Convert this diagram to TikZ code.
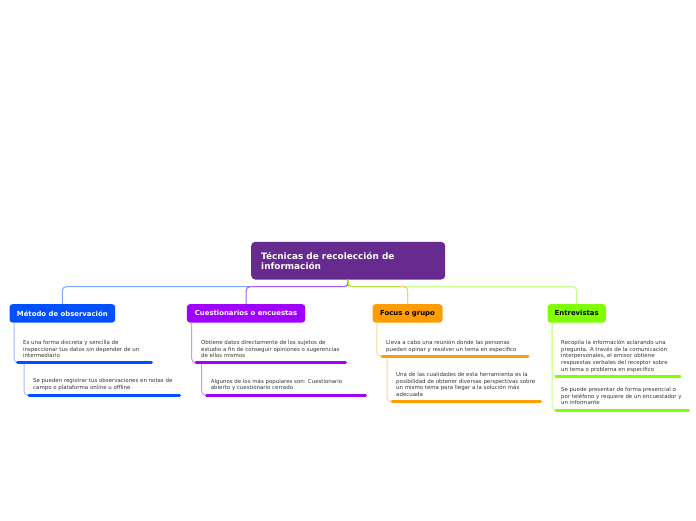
\documentclass[tikz,border=0pt]{standalone}
\usepackage{fontspec}
\setmainfont{DejaVu Sans}
\definecolor{cmain}{HTML}{672A8E}
\definecolor{cblue}{HTML}{0050FF}
\definecolor{cpurple}{HTML}{A000FF}
\definecolor{corange}{HTML}{FF9C00}
\definecolor{cgreen}{HTML}{80FF00}
\definecolor{lblue}{HTML}{80A6FF}
\definecolor{lpurple}{HTML}{A55CF2}
\definecolor{lyg}{HTML}{B8E63C}
\definecolor{lorange}{HTML}{FFCB7A}
\definecolor{lgreen}{HTML}{C4FF88}
\definecolor{sblue}{HTML}{A3BCFF}
\definecolor{spurple}{HTML}{D391FF}
\definecolor{sorange}{HTML}{FFD596}
\definecolor{sgreen}{HTML}{C8FF90}
\newcommand{\fsub}{\fontsize{5.45}{6.67}\selectfont}
\newcommand{\fbranch}{\fontsize{6.9}{7.5}\selectfont\bfseries}
\newcommand{\fmain}{\fontsize{8.9}{10.6}\selectfont\bfseries}
\tikzset{
  branchbox/.style={rounded corners=3pt, draw=none, inner sep=0pt, minimum height=18.3pt, anchor=north west, font=\fbranch},
  subtext/.style={anchor=north west, inner sep=0pt, align=left, font=\fsub, text=black!80},
  uline/.style={line width=3pt, line cap=round},
  conn/.style={line width=1pt, rounded corners=4pt},
  sconn/.style={line width=1pt, rounded corners=4pt},
}
\begin{document}
\begin{tikzpicture}[x=1pt,y=-1pt]
\useasboundingbox (0,0) rectangle (696,520);
% central node
\node[fill=cmain, rounded corners=4pt, minimum width=194pt, minimum height=37.6pt, inner sep=0pt, anchor=north west] (c) at (251,241.7) {};
\node[anchor=north west, inner sep=0pt, align=left, text=white, font=\fmain] (ct) at (261,252) {Técnicas de recolección de\\información};
% branch nodes
\node[branchbox, fill=cblue, minimum width=105.7pt, text=white] (b1) at (9.3,304) {Método de observación};
\node[branchbox, fill=cpurple, minimum width=118.3pt, text=white] (b2) at (186.7,304) {Cuestionarios o encuestas};
\node[branchbox, fill=corange, minimum width=70pt, text=black] (b3) at (372.3,304) {Focus o grupo};
\node[branchbox, fill=cgreen, minimum width=58.4pt, text=black] (b4) at (547.3,304) {Entrevistas};
% main connectors
\draw[conn, lgreen] (c.south) -- ++(0,7) -| (b4.north);
\draw[conn, lyg] (c.south) -- ++(0,7) -| (b3.north);
\draw[conn, lorange] ([xshift=-8pt,yshift=17.7pt]b3.north) -| (b3.north);
\draw[conn, lblue] (c.south) -- ++(0,7) -| (b1.north);
\draw[conn, lpurple] (c.south) -- ++(0,7) -| (b2.north);
\draw[line width=1pt, lyg] (c.south) -- ++(0,7.2);
% sub texts
\node[subtext] (t11) at (23,340) {Es una forma discreta y sencilla de\\inspeccionar tus datos sin depender de un\\intermediario};
\node[subtext] (t12) at (33,378.6) {Se pueden registrar tus observaciones en notas de\\campo o plataforma online u offline};
\node[subtext] (t21) at (201,340) {Obtiene datos directamente de los sujetos de\\estudio a fin de conseguir opiniones o sugerencias\\de ellos mismos};
\node[subtext] (t22) at (210.7,378.6) {Algunos de los más populares son: Cuestionario\\abierto y cuestionario cerrado};
\node[subtext] (t31) at (386,340) {Lleva a cabo una reunión donde las personas\\pueden opinar y resolver un tema en específico};
\node[subtext] (t32) at (396,372) {Una de las cualidades de esta herramienta es la\\posibilidad de obtener diversas perspectivas sobre\\un mismo tema para llegar a la solución más\\adecuada};
\node[subtext] (t41) at (561,340) {Recopila la información aclarando una\\pregunta. A través de la comunicación\\interpersonales, el emisor obtiene\\respuestas verbales del receptor sobre\\un tema o problema en específico};
\node[subtext] (t42) at (561,387.3) {Se puede presentar de forma presencial o\\por teléfono y requiere de un encuestador y\\un informante};
% underline coordinates
\coordinate (u11a) at (17.5,362.7); \coordinate (u11b) at (151.5,362.7);
\coordinate (u12a) at (29,395.3);   \coordinate (u12b) at (179.5,395.3);
\coordinate (u21a) at (196,362.7);  \coordinate (u21b) at (345.5,362.7);
\coordinate (u22a) at (206.5,395.3); \coordinate (u22b) at (365.5,395.3);
\coordinate (u31a) at (382,356);    \coordinate (u31b) at (528,356);
\coordinate (u32a) at (392,401.7);  \coordinate (u32b) at (540.5,401.7);
\coordinate (u41a) at (556,376);    \coordinate (u41b) at (680,376);
\coordinate (u42a) at (556,410);    \coordinate (u42b) at (688.5,410);
% sub connectors
\draw[sconn, sblue] ([xshift=4.7pt]b1.south west) |- (u11a);
\draw[sconn, sblue] ([xshift=6.5pt]u11a) |- (u12a);
\draw[sconn, spurple] ([xshift=5pt]b2.south west) |- (u21a);
\draw[sconn, spurple] ([xshift=5.7pt]u21a) |- (u22a);
\draw[sconn, sorange] ([xshift=4.5pt]b3.south west) |- (u31a);
\draw[sconn, sorange] ([xshift=5pt]u31a) |- (u32a);
\draw[sconn, sgreen] ([xshift=4.7pt]b4.south west) |- (u41a);
\draw[sconn, sgreen] ([xshift=4.7pt]b4.south west) |- (u42a);
% underlines
\draw[uline, cblue] (u11a) -- (u11b);
\draw[uline, cblue] (u12a) -- (u12b);
\draw[uline, cpurple] (u21a) -- (u21b);
\draw[uline, cpurple] (u22a) -- (u22b);
\draw[uline, corange] (u31a) -- (u31b);
\draw[uline, corange] (u32a) -- (u32b);
\draw[uline, cgreen] (u41a) -- (u41b);
\draw[uline, cgreen] (u42a) -- (u42b);
\end{tikzpicture}
\end{document}
